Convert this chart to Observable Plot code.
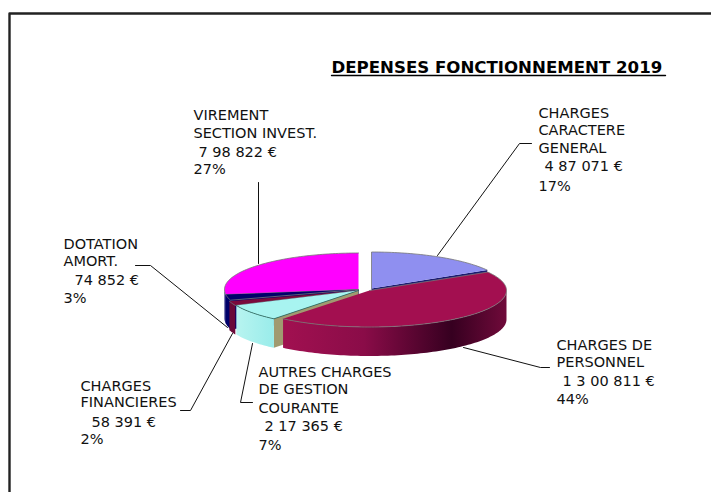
<!DOCTYPE html>
<html><head><meta charset="utf-8">
<script src="https://cdn.jsdelivr.net/npm/d3@7"></script>
<script src="https://cdn.jsdelivr.net/npm/@observablehq/plot@0.6"></script>
<style>html,body{margin:0;padding:0;background:#fff}svg{display:block}</style>
</head><body><div id="chart"></div>
<script>
const title = "DEPENSES FONCTIONNEMENT 2019";
const names = ["CHARGES CARACTERE GENERAL","CHARGES DE PERSONNEL","AUTRES CHARGES DE GESTION COURANTE","CHARGES FINANCIERES","DOTATION AMORT.","VIREMENT SECTION INVEST."];
const amounts = [487071,1300811,217365,58391,74852,798822];
const amountLabels = ["4 87 071 €","1 3 00 811 €","2 17 365 €","58 391 €","74 852 €","7 98 822 €"];
const percents = ["17%","44%","7%","2%","3%","27%"];

// layout (pixel-like plot coordinates)
const topFill  = ["#8f8ff0","#a30f50","#a8f4f0","#7a0a3c","#00006a","#ff00ff"];
const wallFill = ["#1a1a70","url(#redWall)","url(#cyanWall)","#6a0a38","#00006a","#00006a"];
const centers  = [[371,288],[369,290],[358,290],[357,290],[358,289],[358,289]];
const radii    = [134,137,134,134,134,134];
const RY = 36.5, DEPTH = 29;
const labelRows = [
  {x:538,y:113,t:"CHARGES"},{x:538,y:130,t:"CARACTERE"},{x:538,y:148,t:"GENERAL"},{x:544,y:166,t:amountLabels[0]},{x:538,y:186,t:percents[0]},
  {x:556,y:345,t:"CHARGES DE"},{x:556,y:362,t:"PERSONNEL"},{x:562,y:381,t:amountLabels[1]},{x:556,y:399,t:percents[1]},
  {x:258,y:372,t:"AUTRES CHARGES"},{x:258,y:389,t:"DE GESTION"},{x:258,y:408,t:"COURANTE"},{x:264,y:426,t:amountLabels[2]},{x:258,y:445,t:percents[2]},
  {x:80,y:386,t:"CHARGES"},{x:80,y:402,t:"FINANCIERES"},{x:91,y:422,t:amountLabels[3]},{x:80,y:439,t:percents[3]},
  {x:63,y:244,t:"DOTATION"},{x:63,y:261,t:"AMORT."},{x:74,y:280,t:amountLabels[4]},{x:63,y:298,t:percents[4]},
  {x:193,y:115,t:"VIREMENT"},{x:193,y:133,t:"SECTION INVEST."},{x:198,y:152,t:amountLabels[5]},{x:193,y:169,t:percents[5]}
];
const leaders = [
  [[531,143],[519,143],[437,255]],
  [[549,367],[540,367],[463,347]],
  [[252,402],[240,402],[252,343]],
  [[180,410],[190,410],[232,333]],
  [[135,265],[150,265],[227,327]],
  [[258,182],[258,263]]
];
const frame = [[9,492],[9,13],[711,13]];
const titleRule = [[331,75],[665,75]];

const total = d3.sum(amounts);
let acc = 0;
const slices = amounts.map((v,i)=>{ const a0 = acc/total*2*Math.PI; acc += v; return {i,a0,a1:acc/total*2*Math.PI}; });
const rim = (i,t,dy=0)=>({x:centers[i][0]+radii[i]*Math.sin(t), y:centers[i][1]-RY*Math.cos(t)+dy});
function arc(i,a0,a1,dy=0){ const n=Math.max(2,Math.ceil((a1-a0)*40)); return d3.range(n+1).map(k=>rim(i,a0+(a1-a0)*k/n,dy)); }
const P = ([x,y])=>({x,y});

function topFace(s){ return [P(centers[s.i]),...arc(s.i,s.a0,s.a1)]; }
function frontWall(s){
  const a0=Math.max(s.a0,Math.PI/2), a1=Math.min(s.a1,3*Math.PI/2);
  if(a1<=a0) return null;
  return [...arc(s.i,a0,a1),...arc(s.i,a0,a1,DEPTH).reverse()];
}
function cutFace(s,a){ const c=centers[s.i]; const r=rim(s.i,a); return [P(c),r,{x:r.x,y:r.y+DEPTH},{x:c[0],y:c[1]+DEPTH}]; }

const poly=(pts,fill,stroke="none",sw=0.8)=>Plot.line(pts,{x:"x",y:"y",fill,stroke,strokeWidth:sw});
const marks=[];
marks.push(()=>{
  const svgNS="http://www.w3.org/2000/svg";
  const defs=document.createElementNS(svgNS,"defs");
  defs.innerHTML=`<linearGradient id="redWall" gradientUnits="userSpaceOnUse" x1="287" x2="506" y1="0" y2="0">
    <stop offset="0" stop-color="#a01050"/><stop offset="0.35" stop-color="#8a0c48"/><stop offset="0.75" stop-color="#360020"/><stop offset="1" stop-color="#700a3a"/></linearGradient>
    <linearGradient id="cyanWall" gradientUnits="userSpaceOnUse" x1="235" x2="275" y1="0" y2="0">
    <stop offset="0" stop-color="#b8f4f0"/><stop offset="1" stop-color="#98ecea"/></linearGradient>`;
  return defs;
});
marks.push(Plot.line(frame.map(P),{x:"x",y:"y",stroke:"#222",strokeWidth:2.4}));
marks.push(Plot.text([title],{x:()=>331,y:()=>67.5,text:d=>d,textAnchor:"start",fontWeight:"bold",fontSize:16.6,fill:"#000"}));
marks.push(Plot.line(titleRule.map(P),{x:"x",y:"y",stroke:"#000",strokeWidth:1.4}));
const order=[0,5,4,3,2,1];
for(const idx of order){
  const s=slices[idx];
  if(idx===0) marks.push(poly(cutFace(s,s.a1),"#1a1a70"));
  if(idx===5||idx===4) marks.push(poly(cutFace(s,s.a0),"#00006a"));
  if(idx===2) marks.push(poly(cutFace(s,s.a0),"#a09a70"));
  const w=frontWall(s);
  if(w) marks.push(poly(w,wallFill[idx]));
  marks.push(poly(topFace(s),topFill[idx],idx===2?"#2f6a55":"#777",0.8));
}
for(const l of leaders) marks.push(Plot.line(l.map(P),{x:"x",y:"y",stroke:"#111",strokeWidth:1}));
marks.push(Plot.text(labelRows,{x:"x",y:"y",text:"t",textAnchor:"start",fontSize:14.5,fill:"#111"}));

const plot=Plot.plot({width:711,height:492,margin:0,
  x:{domain:[0,711],range:[0,711],axis:null},
  y:{domain:[0,492],range:[0,492],axis:null},
  style:{fontFamily:"'DejaVu Sans',sans-serif",background:"#fff"},
  marks});
document.getElementById("chart").append(plot);
</script></body></html>
